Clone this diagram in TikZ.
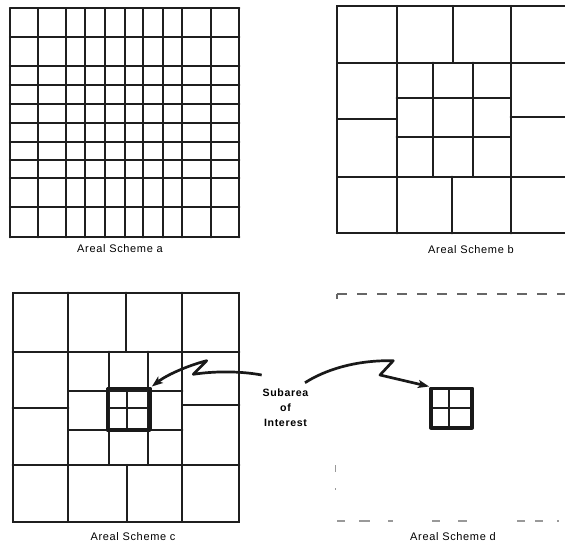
\documentclass[tikz,border=0pt]{standalone}
\usepackage{fontspec}
\setmainfont{Liberation Sans}
\newfontfamily\lblfont[LetterSpace=6]{Liberation Sans}
\usetikzlibrary{arrows.meta}
\begin{document}
\begin{tikzpicture}[x=1pt,y=-1pt,
  gridline/.style={line width=2.2pt, color=black!88, line cap=round},
  boldbox/.style={draw, line width=3.8pt, color=black!90, line join=round, inner sep=0pt},
  lbl/.style={font=\lblfont\fontsize{11}{13}\selectfont, inner sep=0pt},
  sublbl/.style={font=\lblfont\bfseries\fontsize{10.6}{15.2}\selectfont, align=center, inner sep=0pt},
  zigarrow/.style={line width=2.7pt, color=black!90, line join=round, -{Stealth[length=11pt,width=8pt,inset=2.5pt]}},
  fainttop/.style={line width=1.6pt, color=black!60},
  faintbot/.style={line width=1.6pt, color=black!40}]
\useasboundingbox (0,0) rectangle (565,548);
\clip (0,0) rectangle (565,548);

% ---------------- Areal Scheme a ----------------
\foreach \x in {10,37.7,65.7,85,105.3,125,143.3,163.3,181.7,210.7,239.3}
  \draw[gridline] (\x,8.3) -- (\x,237.3);
\foreach \y in {8.3,36.7,65.7,85,104,123.3,141.7,160,178.3,206.7,237.3}
  \draw[gridline] (10,\y) -- (239.3,\y);
\node[lbl] (la) at (120,249) {Areal Scheme a};

% ---------------- Areal Scheme b ----------------
\draw[gridline] (568,6) -- (337.3,6) -- (337.3,233.3) -- (568,233.3);
\draw[gridline] (337.3,62.7) -- (568,62.7);
\draw[gridline] (337.3,176.7) -- (568,176.7);
\draw[gridline] (396.7,6) -- (396.7,233.3);
\draw[gridline] (510.7,6) -- (510.7,233.3);
\draw[gridline] (452.7,6) -- (452.7,62.7);
\draw[gridline] (452.3,176.7) -- (452.3,233.3);
\draw[gridline] (337.3,119.3) -- (396.7,119.3);
\draw[gridline] (510.7,117.3) -- (568,117.3);
\foreach \x in {433.3,473.3} \draw[gridline] (\x,62.7) -- (\x,176.7);
\foreach \y in {98.3,136.7} \draw[gridline] (396.7,\y) -- (510.7,\y);
\node[lbl] (lb) at (471,250) {Areal Scheme b};

% ---------------- Areal Scheme c ----------------
\draw[gridline] (12.7,292.7) rectangle (239.3,521.7);
\draw[gridline] (12.7,351.7) -- (239.3,351.7);
\draw[gridline] (12.7,465) -- (239.3,465);
\draw[gridline] (68.3,292.7) -- (68.3,521.7);
\draw[gridline] (182.3,292.7) -- (182.3,521.7);
\draw[gridline] (126,292.7) -- (126,351.7);
\draw[gridline] (126.7,465) -- (126.7,521.7);
\draw[gridline] (12.7,407.7) -- (68.3,407.7);
\draw[gridline] (182.3,405) -- (239.3,405);
\foreach \x in {109,148.3} \draw[gridline] (\x,351.7) -- (\x,465);
\foreach \y in {391,430} \draw[gridline] (68.3,\y) -- (182.3,\y);
\draw[gridline] (127.3,389) -- (127.3,430);
\draw[gridline] (107.5,408.3) -- (150,408.3);
\node[boldbox, minimum width=42.5pt, minimum height=41.6pt] (subc) at (128.75,409.2) {};
\node[lbl] (lc) at (133,537) {Areal Scheme c};

% ---------------- Areal Scheme d ----------------
\draw[fainttop, dash pattern=on 10pt off 10pt] (337,294) -- (568,294);
\draw[fainttop] (337,294) -- (337,299);
\draw[faintbot] (335.5,465) -- (335.5,472);
\draw[faintbot] (335.5,488) -- (335.5,490);
\foreach \a/\b in {337/345,359/370,388/393,432/440,458/467,517/525,535/543,557/559}
  \draw[faintbot] (\a,521) -- (\b,521);
\draw[gridline] (449.3,390) -- (449.3,426);
\draw[gridline] (432,408.3) -- (471,408.3);
\node[boldbox, minimum width=41.3pt, minimum height=39.2pt] (subd) at (451.65,408) {};
\node[lbl] (ld) at (453,537) {Areal Scheme d};

% ---------------- Subarea of Interest ----------------
\node[sublbl] (sub) at (285.5,408) {Subarea\\of\\Interest};
\coordinate (lstart) at (261.7,375);
\coordinate (lmid) at (193.3,374.3);
\coordinate (lzig) at (206.7,360.7);
\coordinate (rstart) at (305,382.7);
\coordinate (rzig) at (393.3,360.7);
\coordinate (rmid) at (380,375);
\draw[zigarrow] (lstart) .. controls (240,371) and (215,371) .. (lmid)
  -- (lzig) .. controls (190,365) and (168,374) .. (subc.north east);
\draw[zigarrow] (rstart) .. controls (325,370) and (355,360) .. (rzig)
  -- (rmid) -- (subd.north west);
\end{tikzpicture}
\end{document}
